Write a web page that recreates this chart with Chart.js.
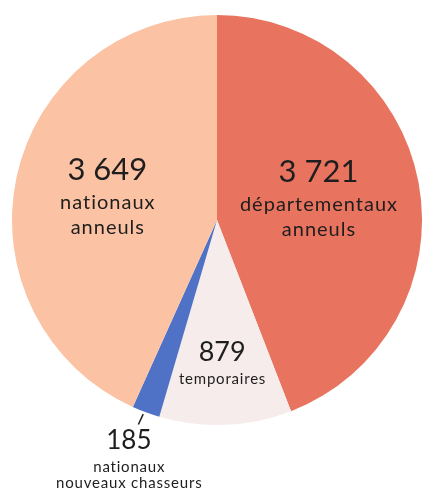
<!DOCTYPE html>
<html>
<head>
<meta charset="utf-8">
<script src="https://cdn.jsdelivr.net/npm/chart.js@4"></script>
<style>
	html, body { margin: 0; padding: 0; background: #ffffff; }
	#wrap { width: 422px; height: 491px; position: relative; }
</style>
</head>
<body>
<div id="wrap"><canvas id="myChart"></canvas></div>
<script>
// chart values, clockwise from 12 o'clock
var categories = ['départementaux annuels', 'temporaires', 'nationaux nouveaux chasseurs', 'nationaux annuels'];
var values = [3721, 879, 185, 3649];
var valueLabels = ['3 721', '879', '185', '3 649'];
var captionLines = [['départementaux', 'anneuls'], ['temporaires'], ['nationaux', 'nouveaux chasseurs'], ['nationaux', 'anneuls']];

var sliceColors = ['#e8735f', '#f7ecec', '#4f72c6', '#fbc3a3'];

// where each label block sits, in units of the pie radius from its centre
var labelStyles = [
	{ dx: 0.495, dy: -0.235, big: 31, small: 20, spacing: 1, gaps: [33, 25] },
	{ dx: 0.025, dy: 0.645, big: 27, small: 15, spacing: 0.8, gaps: [27] },
	{ dx: -0.43, dy: 1.075, big: 26, small: 15, spacing: 0.8, gaps: [27, 16] },
	{ dx: -0.535, dy: -0.245, big: 31, small: 20, spacing: 1, gaps: [33, 25] }
];

var fontFamily = 'Lato, "Open Sans", sans-serif';

var sliceLabels = {
	id: 'sliceLabels',
	afterDatasetsDraw: function (chart) {
		var ctx = chart.ctx;
		var arcs = chart.getDatasetMeta(0).data;
		ctx.save();
		ctx.fillStyle = '#1e1e1e';
		ctx.textAlign = 'center';
		ctx.textBaseline = 'middle';
		for (var i = 0; i < arcs.length; i++) {
			var arc = arcs[i];
			var st = labelStyles[i];
			var x = arc.x + st.dx * arc.outerRadius;
			var y = arc.y + st.dy * arc.outerRadius;
			ctx.letterSpacing = '0px';
			ctx.font = '400 ' + st.big + 'px ' + fontFamily;
			ctx.fillText(valueLabels[i], x, y);
			var lines = captionLines[i];
			ctx.letterSpacing = st.spacing + 'px';
			ctx.font = '400 ' + st.small + 'px ' + fontFamily;
			var yy = y;
			for (var j = 0; j < lines.length; j++) {
				yy += st.gaps[j];
				ctx.fillText(lines[j], x + st.spacing / 2, yy);
			}
		}
		// small leader line for the thin blue slice
		var blue = arcs[2];
		var mid = (blue.startAngle + blue.endAngle) / 2;
		var r1 = blue.outerRadius + 2;
		var r2 = blue.outerRadius + 13;
		ctx.strokeStyle = '#1e1e1e';
		ctx.lineWidth = 1.5;
		ctx.beginPath();
		ctx.moveTo(blue.x + Math.cos(mid) * r1 - 2, blue.y + Math.sin(mid) * r1);
		ctx.lineTo(blue.x + Math.cos(mid) * r2 - 3, blue.y + Math.sin(mid) * r2);
		ctx.stroke();
		ctx.restore();
	}
};

var chart = document.getElementById('myChart').getContext('2d');
var myChart = new Chart(chart, {
	type: 'pie',
	data: {
		labels: categories,
		datasets: [{
			data: values,
			backgroundColor: sliceColors,
			borderWidth: 0
		}]
	},
	options: {
		responsive: true,
		maintainAspectRatio: false,
		animation: false,
		layout: {
			padding: { left: 12, right: 0, top: 15, bottom: 66 }
		},
		plugins: {
			legend: { display: false },
			tooltip: { enabled: false }
		}
	},
	plugins: [sliceLabels]
});
</script>
</body>
</html>
